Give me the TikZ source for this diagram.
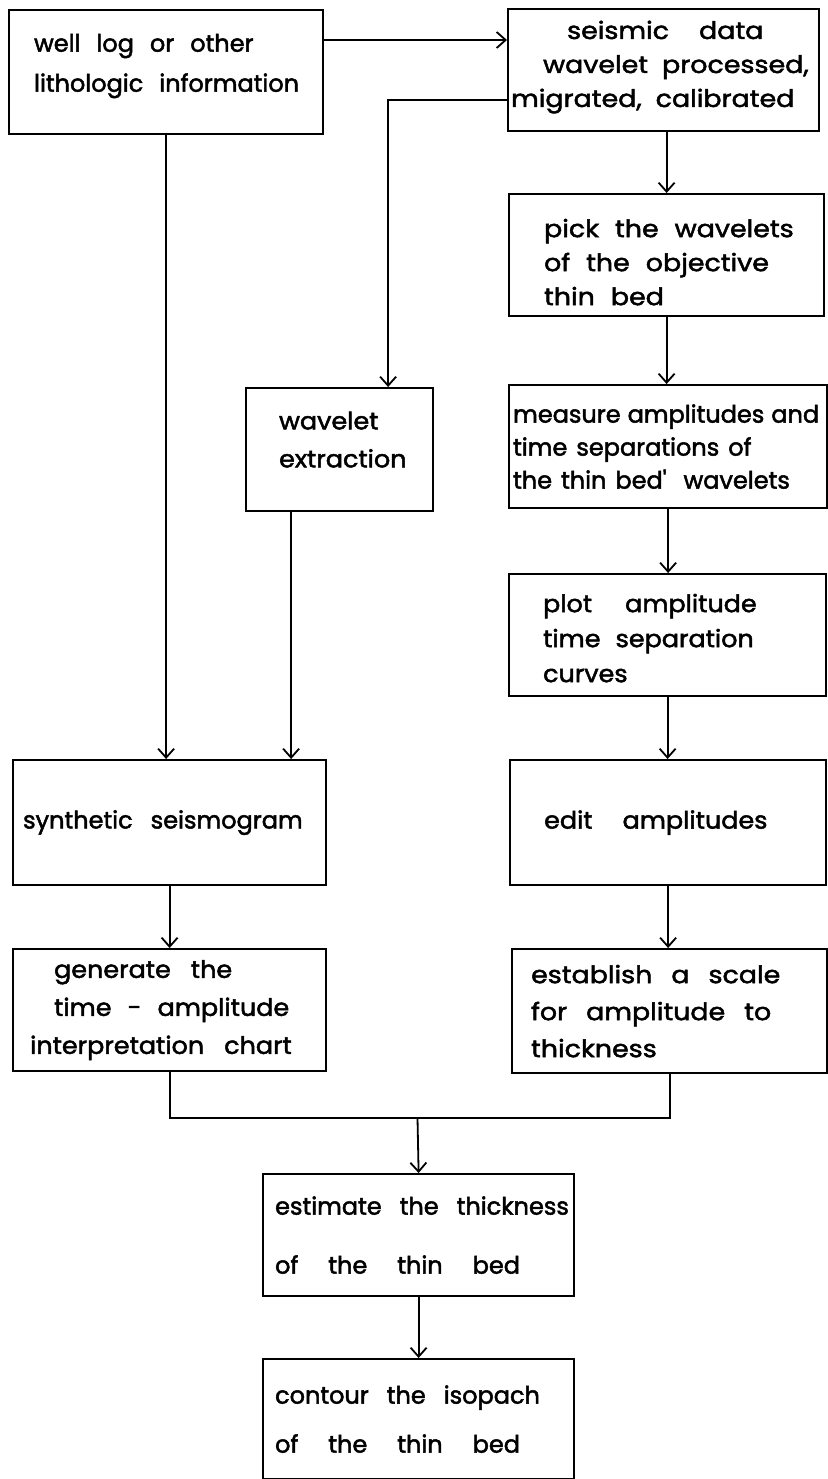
\documentclass[tikz,border=0pt]{standalone}
\usepackage{fontspec}
\setmainfont{Poppins}
\newfontfamily\fN{Poppins}[FakeBold=2]
\newfontfamily\fS{Poppins}[FakeStretch=1.06, FakeBold=2]
\newfontfamily\fW{Poppins}[FakeStretch=1.12, FakeBold=2]
\usetikzlibrary{arrows.meta}
\newcommand\tfl[2]{#1\fontsize{24}{#2}\selectfont}
\newcommand\ws[1]{\spaceskip=#1\relax\xspaceskip=#1\relax}
\newcommand\lin[1]{\mbox{#1}}
\tikzset{
  box/.style={draw, line width=2.2pt, inner sep=0pt, anchor=north west, align=left},
  arr/.style={line width=1.8pt, -{Straight Barb[length=9pt,width=16pt,line width=1.8pt]}},
  ln/.style={line width=1.8pt},
}
\begin{document}
\begin{tikzpicture}[x=1pt,y=-1pt]
\useasboundingbox (0,0) rectangle (827,1479);
\node[box, minimum width=314pt, minimum height=124pt, text width=264pt, font={\tfl{\fN}{40}}] (A) at (8,9)
  {\ws{16pt}\lin{well log or other}\\\lin{lithologic information}\par\kern12pt};
\node[box, minimum width=311pt, minimum height=122pt, text width=305pt, font={\tfl{\fW}{34}}] (B) at (507,8)
  {\ws{14pt}\lin{\hspace{56pt}seismic\hspace{16pt} data}\\\lin{\hspace{32pt}wavelet processed,}\\\lin{migrated, calibrated}\par\kern6pt};
\node[box, minimum width=315pt, minimum height=122pt, text width=245pt, font={\tfl{\fW}{34}}] (pick) at (508,193)
  {\ws{16pt}\lin{pick the wavelets}\\\lin{of the objective}\\\lin{thin bed}\par\kern-14pt};
\node[box, minimum width=187pt, minimum height=123pt, text width=121pt, font={\tfl{\fS}{38}}] (wave) at (245,387)
  {\lin{wavelet}\\\lin{extraction}\par\kern20pt};
\node[box, minimum width=318pt, minimum height=123pt, text width=310pt, font={\tfl{\fN}{33}}] (measure) at (508,384)
  {\ws{9pt}\lin{measure\hspace{7pt}amplitudes\hspace{7pt}and}\\\lin{time separations of}\\\lin{the thin bed\textquotesingle\hspace{8pt} wavelets}};
\node[box, minimum width=317pt, minimum height=122pt, text width=249pt, font={\tfl{\fS}{35}}] (plot) at (508,573)
  {\ws{15pt}\lin{plot\hspace{18pt} amplitude}\\\lin{time separation}\\\lin{curves}\par\kern-6pt};
\node[box, minimum width=313pt, minimum height=125pt, text width=293pt, font={\tfl{\fN}{36}}] (synth) at (12,759)
  {\ws{18pt}\lin{synthetic seismogram}};
\node[box, minimum width=316pt, minimum height=125pt, text width=248pt, font={\tfl{\fS}{36}}] (edit) at (509,759)
  {\ws{18pt}\lin{edit\hspace{12pt} amplitudes}};
\node[box, minimum width=313pt, minimum height=122pt, text width=279pt, font={\tfl{\fS}{38}}] (gen) at (12,948)
  {\ws{20pt}\lin{\hspace{24pt}generate the}\\\lin{\hspace{24pt}time\hspace{-4pt} - \hspace{-4pt}amplitude}\\\lin{interpretation chart}};
\node[box, minimum width=315pt, minimum height=124pt, text width=277pt, font={\tfl{\fW}{37}}] (est) at (511,948)
  {\ws{19pt}\lin{establish a scale}\\\lin{for amplitude to}\\\lin{thickness}};
\node[box, minimum width=311pt, minimum height=122pt, text width=287pt, font={\tfl{\fN}{59}}] (estimate) at (262,1173)
  {\ws{18pt}\lin{estimate the thickness}\\\lin{of\hspace{12pt} the\hspace{12pt} thin\hspace{12pt} bed}};
\node[box, minimum width=311pt, minimum height=120pt, text width=287pt, font={\tfl{\fN}{49}}] (contour) at (262,1358)
  {\ws{18pt}\lin{contour the isopach}\\\lin{of\hspace{12pt} the\hspace{12pt} thin\hspace{12pt} bed}};
\coordinate (m) at (417.5,1118);
\draw[arr] ([yshift=-31pt]A.north east) -- ([yshift=-31pt]A.north east -| B.west);
\draw[arr] ([yshift=-92pt]B.north west) -| ([xshift=48.5pt]wave.north);
\draw[arr] (pick.north |- B.south) -- (pick.north);
\draw[arr] (pick.south) -- (pick.south |- measure.north);
\draw[arr] (measure.south) -- (measure.south |- plot.north);
\draw[arr] (plot.south) -- (plot.south |- edit.north);
\draw[arr] (edit.south) -- (edit.south |- est.north);
\draw[arr] (A.south) -- (A.south |- synth.north);
\draw[arr] ([xshift=-48.5pt]wave.south) -- ([xshift=-48.5pt]wave.south |- synth.north);
\draw[arr] (synth.south) -- (gen.north);
\draw[ln] (gen.south) |- (m) -| (est.south);
\draw[arr] (m) -- (estimate.north);
\draw[arr] (estimate.south) -- (contour.north);
\end{tikzpicture}
\end{document}
